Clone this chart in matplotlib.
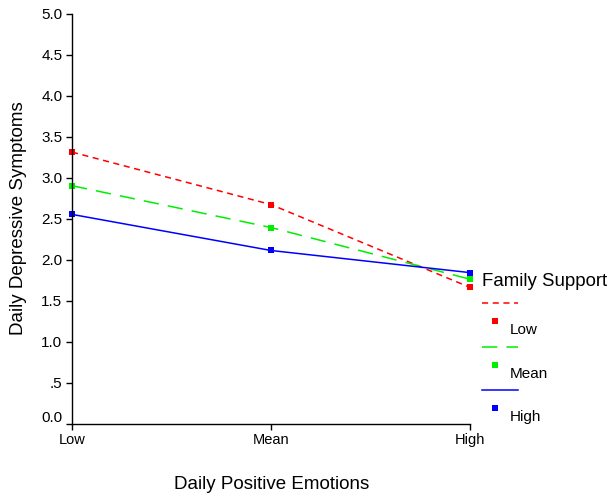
import matplotlib
matplotlib.use("Agg")
import matplotlib.pyplot as plt
import matplotlib.transforms as mtransforms
from matplotlib.lines import Line2D

plt.rcParams['font.family'] = ['Liberation Sans', 'DejaVu Sans']

emotions = ['Low', 'Mean', 'High']
support_levels = ['Low', 'Mean', 'High']
symptoms_low = [3.31, 2.67, 1.66]
symptoms_mean = [2.90, 2.39, 1.76]
symptoms_high = [2.55, 2.11, 1.84]
y_ticks = [0.0, 0.5, 1.0, 1.5, 2.0, 2.5, 3.0, 3.5, 4.0, 4.5, 5.0]
y_labels = ['0.0', '.5', '1.0', '1.5', '2.0', '2.5', '3.0', '3.5', '4.0', '4.5', '5.0']

W, H = 610, 494
fig = plt.figure(figsize=(6.10, 4.94), dpi=100)
ax = fig.add_axes([72 / W, 1 - 423.5 / H, (470 - 72) / W, (423.5 - 13.5) / H])

styles = [
    ('#ff0000', (0, (4, 3))),
    ('#00ee00', (0, (10, 6))),
    ('#0000ff', '-'),
]
series = [symptoms_low, symptoms_mean, symptoms_high]
xs = list(range(len(emotions)))
for vals, (col, ls) in zip(series, styles):
    ax.plot(xs, vals, color=col, linestyle=ls, linewidth=1.1,
            marker='s', markersize=4, markeredgewidth=0, clip_on=False)

ax.set_xlim(0, 2)
ax.set_ylim(0, 5)
ax.set_xticks(xs)
ax.set_xticklabels(emotions, fontsize=10.5)
ax.set_yticks(y_ticks)
ax.set_yticklabels(y_labels, fontsize=11)
ax.tick_params(direction='out', length=4, width=1, colors='black', pad=3)
# the 0.0 label sits a little above its tick
zero_lbl = ax.get_yticklabels()[0]
zero_lbl.set_transform(zero_lbl.get_transform() +
                       mtransforms.ScaledTranslation(0, 7 / 100, fig.dpi_scale_trans))
for s in ['top', 'right']:
    ax.spines[s].set_visible(False)
for s in ['left', 'bottom']:
    ax.spines[s].set_linewidth(1)

fig.text(272 / W, 1 - 484 / H, 'Daily Positive Emotions', ha='center', va='center', fontsize=13.5)
fig.text(19 / W, 1 - 218 / H, 'Daily Depressive Symptoms', ha='center', va='center',
         rotation=90, fontsize=13.5)

# legend in the SPSS style
fig.text(482 / W, 1 - 282 / H, 'Family Support', ha='left', va='center', fontsize=13.4)
line_y = [303, 347, 390]
for (col, ls), name, ly in zip(styles, support_levels, line_y):
    fig.add_artist(Line2D([482 / W, 518 / W], [1 - ly / H, 1 - ly / H], color=col,
                          linestyle=ls, linewidth=1.1, transform=fig.transFigure))
    fig.add_artist(Line2D([495 / W], [1 - (ly + 18) / H], color=col, marker='s',
                          markersize=4, markeredgewidth=0, linestyle='none',
                          transform=fig.transFigure))
    fig.text(510 / W, 1 - (ly + 27) / H, name, ha='left', va='center', fontsize=11)

fig.savefig('out.png', dpi=100)
